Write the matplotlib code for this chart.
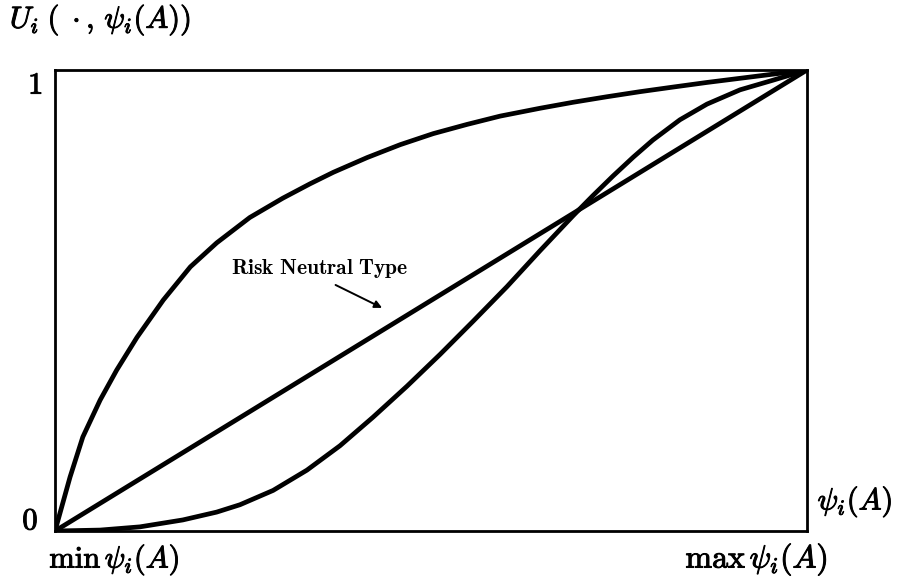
import matplotlib
matplotlib.use('Agg')
import matplotlib.pyplot as plt
import matplotlib.patheffects as pe

plt.rcParams['mathtext.fontset'] = 'cm'
plt.rcParams['font.family'] = 'DejaVu Serif'

# Risk averse type (concave)
averse_x = [0, 0.020, 0.037, 0.060, 0.082, 0.109, 0.144, 0.180, 0.215, 0.259, 0.303,
            0.339, 0.370, 0.415, 0.459, 0.503, 0.548, 0.592, 0.645, 0.689, 0.734,
            0.778, 0.822, 0.867, 0.911, 0.955, 1.0]
averse_y = [0, 0.117, 0.204, 0.284, 0.349, 0.420, 0.501, 0.573, 0.625, 0.680, 0.722,
            0.753, 0.778, 0.810, 0.838, 0.862, 0.882, 0.900, 0.917, 0.930, 0.942,
            0.953, 0.963, 0.973, 0.982, 0.991, 1.0]

# Risk seeking type (convex / s-shaped)
seeking_x = [0, 0.060, 0.113, 0.170, 0.215, 0.246, 0.290, 0.335, 0.379, 0.423, 0.468,
             0.512, 0.556, 0.601, 0.645, 0.689, 0.715, 0.742, 0.769, 0.795, 0.831,
             0.867, 0.911, 0.955, 1.0]
seeking_y = [0, 0.002, 0.009, 0.024, 0.041, 0.057, 0.088, 0.132, 0.185, 0.247, 0.314,
             0.383, 0.455, 0.530, 0.608, 0.684, 0.727, 0.770, 0.811, 0.848, 0.892,
             0.926, 0.957, 0.978, 1.0]

# Risk neutral type
neutral_x = [0, 1]
neutral_y = [0, 1]

fig = plt.figure(figsize=(9.06, 5.84), dpi=100)
ax = fig.add_axes([55 / 906, 1 - 531 / 584, 752 / 906, 461 / 584])

ax.plot(averse_x, averse_y, color='black', lw=3.4, solid_capstyle='round', solid_joinstyle='round')
ax.plot(seeking_x, seeking_y, color='black', lw=3.4, solid_capstyle='round', solid_joinstyle='round')
ax.plot(neutral_x, neutral_y, color='black', lw=3.4, solid_capstyle='round')

ax.set_xlim(0, 1)
ax.set_ylim(0, 1)
ax.set_xticks([])
ax.set_yticks([])
for s in ax.spines.values():
    s.set_linewidth(2)

bold = [pe.withStroke(linewidth=0.7, foreground='black')]

# axis labels
ax.text(-0.016, 0.967, r'$1$', transform=ax.transAxes, ha='right', va='center', fontsize=22, path_effects=bold)
ax.text(-0.022, 0.022, r'$0$', transform=ax.transAxes, ha='right', va='center', fontsize=22, path_effects=bold)
ax.text(0.079, -0.063, r'$\min\,\psi_i(A)$', transform=ax.transAxes, ha='center', va='center',
        fontsize=22, path_effects=bold)
ax.text(0.933, -0.063, r'$\max\,\psi_i(A)$', transform=ax.transAxes, ha='center', va='center',
        fontsize=23, path_effects=bold)
ax.text(1.014, 0.063, r'$\psi_i(A)$', transform=ax.transAxes, ha='left', va='center',
        fontsize=22, path_effects=bold)
ax.text(-0.060, 1.108, r'$U_i\;(\;\cdot,\,\psi_i(A))$', transform=ax.transAxes, ha='left', va='center',
        fontsize=22, path_effects=bold)

ax.annotate(r'$\mathbf{Risk\ Neutral\ Type}$', xy=(0.435, 0.484), xytext=(0.234, 0.570),
            ha='left', va='center', fontsize=15.5,
            arrowprops=dict(arrowstyle='-|>', color='black', lw=1.4, mutation_scale=11,
                            shrinkA=4, shrinkB=0, relpos=(0.53, 0.0)))

fig.savefig('out.png', dpi=100)
